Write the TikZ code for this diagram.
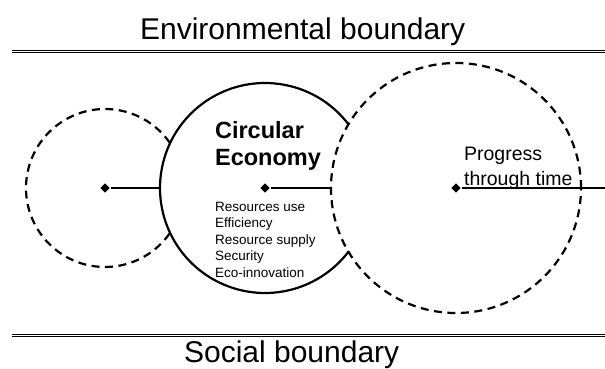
\documentclass[tikz,border=0pt]{standalone}
\usepackage{fontspec}
\setmainfont{Liberation Sans}
\usetikzlibrary{shapes.geometric}
\begin{document}
\begin{tikzpicture}[x=1pt,y=1pt,line join=round,line width=2.2pt,
	dot/.style={diamond,fill,inner sep=0pt,minimum size=10pt},
	ring/.style={circle,inner sep=0pt,outer sep=0pt},
	dashring/.style={dash pattern=on 8pt off 5.5pt},
	boundary/.style={double,line width=1.2pt,double distance=1.4pt},
	txt/.style={anchor=base west,align=left,inner sep=0pt},
	big/.style={font=\fontsize{30}{34}\selectfont}]
		\useasboundingbox (0,0) rectangle (605,368);
		\draw[boundary](12,316.5)--(605,316.5);
		\draw[boundary](12,32.5)--(605,32.5);
		\node[txt,big] (env) at (139,329) {Environmental boundary};
		\node[txt,big] (soc) at (183,6) {Social boundary};
		\foreach \n/\x/\r in {past/105/79,now/265/105,next/456/125}{
			\node[dot] (\n) at (\x,180) {};
			\node[ring,minimum size=2*\r pt] (\n-ring) at (\x,180) {};}
		\draw[dashring](past-ring.35) arc[start angle=35,end angle=325,radius=79];
		\draw(now-ring.37) arc[start angle=37,end angle=323,radius=105];
		\draw[dashring](next-ring) circle[radius=125];
		\coordinate (edge) at (605,180);
		\draw(past)--(now-ring.west) (now)--(next-ring.west) (next)--(edge);
		% base anchor sits on the last line
		\node[txt,font=\bfseries\fontsize{23.5}{27}\selectfont] (ce) at (214,203) {Circular\\Economy};
		\node[txt,font=\fontsize{13.5}{16.5}\selectfont] (goals) at (214,91) {Resources use\\Efficiency\\Resource supply\\Security\\Eco-innovation};
		\node[txt,font=\fontsize{19.5}{25}\selectfont] (time) at (463,183) {Progress\\through time};
\end{tikzpicture}
\end{document}
